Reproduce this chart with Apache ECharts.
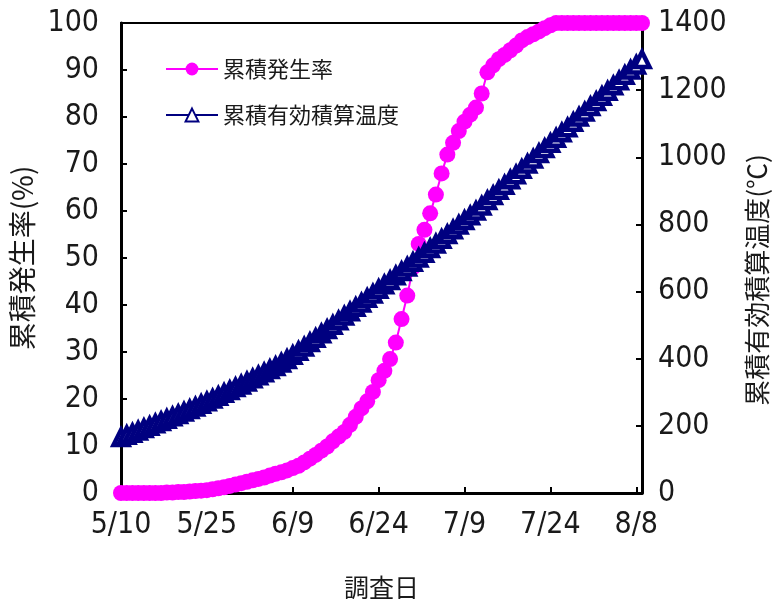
<!DOCTYPE html>
<html>
<head>
<meta charset="utf-8">
<script src="https://cdn.jsdelivr.net/npm/echarts@6/dist/echarts.min.js"></script>
<style>
html,body{margin:0;padding:0;background:#fff;}
#chart{width:772px;height:599px;}
</style>
</head>
<body>
<div id="chart"></div>
<script>
// Survey dates: daily from 5/10 to 8/9
const dates = [];
for (let i = 0; i < 92; i++) {
  const d = new Date(2000, 4, 10 + i);
  dates.push((d.getMonth() + 1) + '/' + d.getDate());
}

const seriesNames = ['累積発生率', '累積有効積算温度'];

// Cumulative occurrence rate (%), left axis
const occurrenceRate = [
  0, 0, 0, 0, 0, 0, 0, 0, 0.1, 0.1,
  0.2, 0.2, 0.3, 0.4, 0.5, 0.6, 0.8, 1.0, 1.2, 1.5,
  1.8, 2.1, 2.4, 2.7, 3.0, 3.3, 3.7, 4.1, 4.4, 4.8,
  5.3, 5.8, 6.5, 7.3, 8.1, 9.0, 9.9, 11.0, 12.0, 13.0,
  14.5, 16.2, 18.0, 19.5, 21.5, 24.0, 26.0, 28.5, 32.0, 37.0,
  42.0, 48.0, 53.0, 56.0, 59.5, 63.5, 68.0, 72.0, 74.5, 77.0,
  79.0, 80.5, 82.0, 85.0, 89.5, 91.0, 92.3, 93.2, 94.2, 95.2,
  96.3, 97.0, 97.6, 98.2, 98.9, 99.5, 100, 100, 100, 100,
  100, 100, 100, 100, 100, 100, 100, 100, 100, 100,
  100, 100
];

// Cumulative effective accumulated temperature (°C), right axis
const accumTemp = [
  165, 172, 178, 185, 192, 199, 206, 213, 220, 227,
  234, 241, 249, 256, 264, 272, 280, 288, 297, 305,
  314, 322, 331, 340, 349, 358, 368, 377, 387, 398,
  410, 422, 435, 448, 461, 474, 487, 500, 513, 527,
  540, 553, 566, 580, 593, 607, 620, 633, 647, 660,
  673, 687, 700, 714, 728, 742, 756, 770, 784, 798,
  812, 826, 840, 855, 871, 886, 902, 917, 933, 948,
  964, 980, 995, 1011, 1026, 1042, 1057, 1073, 1088, 1104,
  1120, 1135, 1151, 1166, 1182, 1197, 1213, 1228, 1244, 1260,
  1275, 1291
];

const numFont = "'Liberation Sans Narrow', 'DejaVu Sans Condensed', 'Noto Sans CJK JP', sans-serif";
const cjkFont = "'Noto Sans CJK JP', sans-serif";
const textColor = '#1a1a1a';

const chart = echarts.init(document.getElementById('chart'), null, { renderer: 'canvas' });

chart.setOption({
  animation: false,
  backgroundColor: '#fff',
  grid: {
    left: 121, right: 130, top: 23, bottom: 106,
    outerBoundsMode: 'none',
    containLabel: false,
    show: true, borderColor: '#000', borderWidth: 2, backgroundColor: 'transparent'
  },
  legend: {
    orient: 'vertical',
    left: 160, top: 53,
    itemGap: 24,
    itemWidth: 52, itemHeight: 16,
    textStyle: { fontFamily: cjkFont, fontSize: 22, color: textColor },
    data: seriesNames
  },
  xAxis: {
    type: 'category',
    data: dates,
    boundaryGap: false,
    name: '調査日',
    nameLocation: 'middle',
    nameGap: 82,
    nameTextStyle: { fontFamily: cjkFont, fontSize: 25, color: textColor },
    axisLine: { lineStyle: { color: '#000', width: 3 } },
    axisTick: { interval: 14, inside: true, length: 6, lineStyle: { color: '#000', width: 2 } },
    axisLabel: { interval: 14, margin: 17, fontFamily: numFont, fontSize: 30, color: textColor },
    splitLine: { show: false }
  },
  yAxis: [
    {
      type: 'value',
      position: 'left',
      min: 0, max: 100, interval: 10,
      name: '累積発生率(%)',
      nameLocation: 'middle',
      nameRotate: 90,
      nameGap: 80,
      nameTextStyle: { fontFamily: cjkFont, fontSize: 28, color: textColor },
      axisLine: { show: true, lineStyle: { color: '#000', width: 3 } },
      axisTick: { show: true, inside: true, length: 6, lineStyle: { color: '#000', width: 2 } },
      axisLabel: { margin: 22, fontFamily: numFont, fontSize: 30, color: textColor },
      splitLine: { show: false }
    },
    {
      type: 'value',
      position: 'right',
      min: 0, max: 1400, interval: 200,
      name: '累積有効積算温度(℃)',
      nameLocation: 'middle',
      nameRotate: 90,
      nameGap: 102,
      nameTextStyle: { fontFamily: cjkFont, fontSize: 26, color: textColor, padding: [0, 44, 0, 0] },
      axisLine: { show: true, lineStyle: { color: '#000', width: 3 } },
      axisTick: { show: true, inside: true, length: 6, lineStyle: { color: '#000', width: 2 } },
      axisLabel: { margin: 16, fontFamily: numFont, fontSize: 30, color: textColor, formatter: function (v) { return String(v); } },
      splitLine: { show: false }
    }
  ],
  series: [
    {
      name: seriesNames[0],
      type: 'line',
      yAxisIndex: 0,
      data: occurrenceRate,
      clip: false,
      showSymbol: true,
      showAllSymbol: true,
      symbol: 'circle',
      symbolSize: 16,
      lineStyle: { color: '#ff00ff', width: 2 },
      itemStyle: { color: '#ff00ff' },
      emphasis: { disabled: true }
    },
    {
      name: seriesNames[1],
      type: 'line',
      yAxisIndex: 1,
      data: accumTemp,
      clip: false,
      showSymbol: true,
      showAllSymbol: true,
      symbol: 'triangle',
      symbolSize: 15,
      lineStyle: { color: '#000080', width: 3 },
      itemStyle: { color: '#ffffff', borderColor: '#000080', borderWidth: 4.5 },
      emphasis: { disabled: true }
    }
  ]
});
</script>
</body>
</html>
